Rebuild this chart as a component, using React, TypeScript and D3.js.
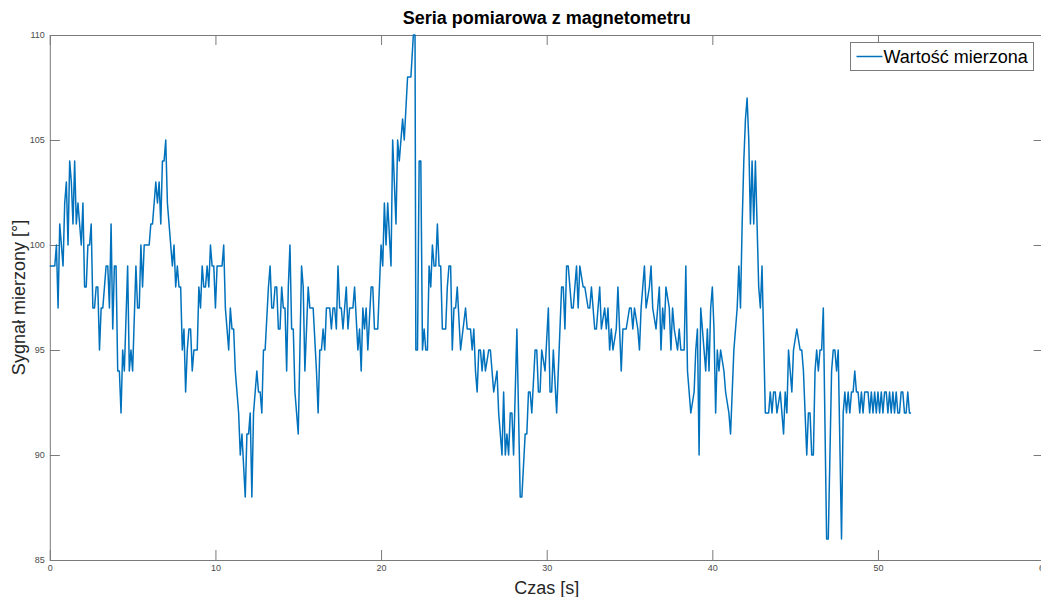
import React, { useRef, useEffect } from "react";
import { select, scaleLinear, axisBottom, axisLeft, axisTop, axisRight, line } from "d3";

// [czas s, wartość]
const part1 = [
  [0.0, 99], [0.3, 99], [0.4, 100], [0.5, 97], [0.6, 101], [0.7, 100], [0.8, 99], [0.9, 102],
  [1.0, 103], [1.1, 100], [1.2, 104], [1.3, 103], [1.4, 101], [1.5, 104], [1.6, 101], [1.7, 102],
  [1.8, 101], [1.9, 100], [2.0, 102], [2.1, 98], [2.2, 98], [2.3, 100], [2.4, 100], [2.5, 101],
  [2.6, 97], [2.7, 97], [2.8, 98], [2.9, 98], [3.0, 95], [3.1, 97], [3.2, 97], [3.4, 99],
  [3.5, 99], [3.6, 97], [3.7, 101], [3.8, 96], [3.9, 99], [4.0, 99], [4.1, 94], [4.2, 94],
  [4.3, 92], [4.4, 95], [4.5, 94], [4.7, 99], [4.8, 94], [4.9, 95], [5.0, 94], [5.2, 99],
  [5.3, 97], [5.4, 97],
];

const part2 = [
  [5.5, 100], [5.6, 98], [5.7, 100], [6.0, 100], [6.1, 101], [6.2, 101], [6.4, 103], [6.5, 102],
  [6.6, 103], [6.7, 101], [6.8, 104], [6.9, 104], [7.0, 105], [7.1, 102], [7.4, 99], [7.5, 100],
  [7.6, 98], [7.7, 99], [7.8, 98], [7.9, 98], [8.0, 95], [8.1, 96], [8.2, 93], [8.3, 95],
  [8.4, 96], [8.5, 96], [8.6, 94], [8.7, 95], [8.9, 95], [9.0, 98], [9.1, 97], [9.2, 99],
  [9.3, 98], [9.4, 98], [9.5, 99], [9.6, 98], [9.7, 100], [9.8, 99], [9.9, 99], [10.0, 97],
  [10.1, 99], [10.4, 99], [10.5, 100], [10.6, 97], [10.8, 95], [10.9, 97],
];

const part3 = [
  [11.0, 96], [11.1, 96], [11.2, 94], [11.4, 92], [11.5, 90], [11.6, 91], [11.8, 88], [11.9, 91],
  [12.0, 91], [12.1, 92], [12.2, 88], [12.3, 92], [12.4, 93], [12.5, 94], [12.6, 93], [12.7, 93],
  [12.8, 92], [12.9, 95], [13.0, 95], [13.2, 98], [13.3, 99], [13.4, 97], [13.5, 97], [13.6, 98],
  [13.7, 98], [13.8, 96], [13.9, 96], [14.0, 98], [14.1, 97], [14.2, 97], [14.3, 94], [14.4, 98],
  [14.5, 100], [14.6, 96], [14.7, 96], [14.8, 93], [15.0, 91], [15.2, 99], [15.3, 98], [15.4, 94],
  [15.6, 98], [15.7, 97], [15.9, 97], [16.1, 94], [16.2, 92], [16.3, 95], [16.4, 95], [16.5, 96],
  [16.6, 95], [16.7, 97], [16.9, 97],
];

const part4 = [
  [17.0, 96], [17.1, 97], [17.2, 97], [17.3, 96], [17.4, 99], [17.5, 97], [17.6, 97], [17.7, 96],
  [17.9, 98], [18.0, 96], [18.1, 97], [18.3, 97], [18.4, 98], [18.6, 95], [18.7, 96], [18.8, 94],
  [18.9, 97], [19.0, 96], [19.1, 97], [19.2, 95], [19.4, 98], [19.5, 98], [19.6, 96], [19.8, 96],
  [20.0, 100], [20.1, 99], [20.2, 102], [20.3, 100], [20.4, 102], [20.6, 99], [20.7, 105], [20.9, 101],
  [21.0, 105], [21.1, 104], [21.3, 106], [21.4, 105], [21.6, 108], [21.8, 108], [21.95, 110], [22.05, 110],
  [22.1, 95], [22.2, 95], [22.3, 104], [22.4, 104], [22.5, 95],
];

const part5 = [
  [22.6, 96], [22.7, 95], [22.8, 95], [22.9, 99], [23.0, 98], [23.1, 100], [23.2, 99], [23.3, 99],
  [23.4, 101], [23.5, 99], [23.6, 99], [23.7, 96], [23.9, 96], [24.0, 98], [24.1, 99], [24.2, 99],
  [24.3, 95], [24.4, 97], [24.5, 97], [24.6, 98], [24.8, 95], [25.1, 97], [25.2, 96], [25.4, 96],
  [25.5, 95], [25.6, 96], [25.7, 94], [25.8, 93], [25.9, 95], [26.0, 95], [26.1, 94], [26.2, 95],
  [26.3, 94], [26.5, 95], [26.6, 95], [26.8, 93], [27.0, 94], [27.1, 92], [27.3, 90], [27.4, 93],
  [27.5, 90], [27.6, 91], [27.7, 90], [27.8, 92], [27.9, 92], [28.0, 90],
];

const part6 = [
  [28.2, 96], [28.4, 88], [28.5, 88], [28.7, 91], [28.8, 91], [28.9, 93], [29.0, 93], [29.1, 92],
  [29.3, 95], [29.4, 95], [29.5, 93], [29.6, 93], [29.7, 95], [29.9, 94], [30.1, 97], [30.2, 93],
  [30.3, 93], [30.4, 95], [30.6, 92], [30.9, 98], [31.0, 98], [31.1, 96], [31.2, 99], [31.3, 99],
  [31.5, 97], [31.6, 97], [31.8, 99], [31.9, 97], [32.0, 99], [32.2, 98], [32.3, 98], [32.5, 97],
  [32.6, 97], [32.7, 98], [32.9, 96], [33.0, 96], [33.2, 98], [33.3, 96], [33.5, 97], [33.6, 96],
  [33.7, 97], [33.8, 95], [33.9, 96],
];

const part7 = [
  [34.0, 95], [34.2, 96], [34.3, 98], [34.4, 96], [34.5, 94], [34.6, 96], [34.8, 96], [35.0, 97],
  [35.1, 97], [35.2, 96], [35.3, 97], [35.5, 96], [35.6, 95], [35.7, 97], [35.8, 98], [35.9, 99],
  [36.0, 97], [36.2, 98], [36.3, 99], [36.4, 97], [36.6, 96], [36.7, 97], [36.8, 98], [36.9, 95],
  [37.0, 97], [37.1, 96], [37.2, 98], [37.4, 97], [37.5, 95], [37.6, 97], [37.7, 96], [37.9, 95],
  [38.0, 96], [38.1, 95], [38.3, 95], [38.4, 99], [38.5, 94], [38.6, 93], [38.7, 92], [38.9, 93],
  [39.0, 95], [39.1, 96], [39.2, 90], [39.3, 97], [39.4, 96], [39.6, 94],
];

const part8 = [
  [39.7, 96], [39.8, 94], [39.9, 97], [40.0, 98], [40.1, 96], [40.2, 92], [40.3, 95], [40.4, 94],
  [40.5, 95], [40.7, 94], [40.8, 93], [41.0, 92], [41.1, 91], [41.3, 95], [41.4, 96], [41.5, 97],
  [41.6, 99], [41.7, 97], [41.8, 101], [41.9, 104], [42.0, 106], [42.1, 107], [42.2, 105], [42.3, 101],
  [42.4, 104], [42.5, 101], [42.6, 104], [42.7, 101], [42.8, 98], [42.9, 97], [43.0, 99], [43.2, 92],
  [43.4, 92], [43.5, 93], [43.6, 92], [43.7, 93], [43.8, 93], [43.9, 92], [44.1, 93], [44.3, 91],
  [44.4, 93], [44.5, 92], [44.6, 95], [44.8, 93], [44.9, 95], [45.1, 96], [45.3, 95], [45.4, 95],
];

const part9 = [
  [45.5, 94], [45.6, 92], [45.7, 90], [45.8, 92], [45.9, 92], [46.0, 90], [46.1, 90], [46.2, 94],
  [46.3, 95], [46.4, 94], [46.5, 95], [46.6, 95], [46.7, 97], [46.9, 86], [47.0, 86], [47.2, 94],
  [47.3, 95], [47.4, 95], [47.5, 94], [47.6, 95], [47.8, 86], [47.9, 92], [48.0, 93], [48.1, 92],
  [48.2, 93], [48.3, 92], [48.4, 93], [48.5, 93], [48.6, 94], [48.7, 93], [48.8, 93], [48.9, 92],
  [49.0, 93], [49.1, 92], [49.2, 93], [49.3, 93], [49.4, 93], [49.5, 92], [49.6, 93], [49.7, 92],
  [49.8, 93], [49.9, 92], [50.0, 93], [50.1, 92], [50.2, 93], [50.3, 92], [50.4, 93], [50.5, 93],
  [50.6, 92], [50.7, 93], [50.8, 92], [50.9, 93], [51.0, 92], [51.1, 93], [51.2, 92], [51.3, 92],
  [51.4, 93], [51.5, 93], [51.6, 92], [51.7, 92], [51.8, 93], [51.9, 92], [52.0, 92],
];

const xTicks = [0, 10, 20, 30, 40, 50, 60];
const yTicks = [85, 90, 95, 100, 105, 110];

const title = "Seria pomiarowa z magnetometru";
const xLabel = "Czas [s]";
const yLabel = "Sygnał mierzony [°]";
const legendLabel = "Wartość mierzona";

function App() {
  const chartRef = useRef<SVGSVGElement>(null);

  useEffect(() => {
    const data = [...part1, ...part2, ...part3, ...part4, ...part5, ...part6, ...part7, ...part8, ...part9];
    const svg = select(chartRef.current);
    svg.selectAll("*").remove();

    const left = 49.8;
    const right = 1043.6;
    const top = 35;
    const bottom = 560;
    const axisColor = "#7a7a7a";
    const font = "'Liberation Sans', Arial, sans-serif";

    const xScale = scaleLinear().domain([0, 60]).range([left, right]);
    const yScale = scaleLinear().domain([85, 110]).range([bottom, top]);

    svg.append("rect").attr("width", 1041).attr("height", 597).attr("fill", "white");

    // osie (ticki do środka jak w MATLAB)
    const styleAxis = (g) => {
      g.select(".domain").attr("stroke", axisColor).attr("stroke-width", 1);
      g.selectAll(".tick line").attr("stroke", axisColor);
      g.selectAll(".tick text")
        .attr("fill", "#4a4a4a")
        .style("font-family", font)
        .style("font-size", "9px");
    };

    svg.append("g")
      .attr("transform", `translate(0,${bottom})`)
      .call(axisBottom(xScale).tickValues(xTicks).tickSizeInner(-10).tickSizeOuter(0).tickPadding(5))
      .call(styleAxis);

    svg.append("g")
      .attr("transform", `translate(0,${top})`)
      .call(axisTop(xScale).tickValues(xTicks).tickSizeInner(-10).tickSizeOuter(0).tickFormat(() => ""))
      .call(styleAxis);

    svg.append("g")
      .attr("transform", `translate(${left},0)`)
      .call(axisLeft(yScale).tickValues(yTicks).tickSizeInner(-10).tickSizeOuter(0).tickPadding(5))
      .call(styleAxis);

    svg.append("g")
      .attr("transform", `translate(${right},0)`)
      .call(axisRight(yScale).tickValues(yTicks).tickSizeInner(-10).tickSizeOuter(0).tickFormat(() => ""))
      .call(styleAxis);

    // seria
    const path = line()
      .x((d) => xScale(d[0]))
      .y((d) => yScale(d[1]));

    svg.append("path")
      .datum(data)
      .attr("d", path)
      .attr("fill", "none")
      .attr("stroke", "#0072BD")
      .attr("stroke-width", 1.5)
      .attr("stroke-linejoin", "round");

    // tytuł i etykiety
    svg.append("text")
      .attr("x", (left + right) / 2)
      .attr("y", 24)
      .attr("text-anchor", "middle")
      .style("font-family", font)
      .style("font-weight", "bold")
      .style("font-size", "18px")
      .attr("fill", "#000")
      .text(title);

    svg.append("text")
      .attr("x", (left + right) / 2)
      .attr("y", 594)
      .attr("text-anchor", "middle")
      .style("font-family", font)
      .style("font-size", "18px")
      .attr("fill", "#262626")
      .text(xLabel);

    svg.append("text")
      .attr("transform", `translate(25,${(top + bottom) / 2}) rotate(-90)`)
      .attr("text-anchor", "middle")
      .style("font-family", font)
      .style("font-size", "18px")
      .attr("fill", "#262626")
      .text(yLabel);

    // legenda
    const lg = svg.append("g").attr("transform", "translate(850.5,42.5)");
    lg.append("rect")
      .attr("width", 183)
      .attr("height", 28)
      .attr("fill", "white")
      .attr("stroke", "#7a7a7a");
    lg.append("line")
      .attr("x1", 6).attr("x2", 32)
      .attr("y1", 14).attr("y2", 14)
      .attr("stroke", "#0072BD")
      .attr("stroke-width", 1.5);
    lg.append("text")
      .attr("x", 33)
      .attr("y", 20.5)
      .style("font-family", font)
      .style("font-size", "18px")
      .attr("fill", "#000")
      .text(legendLabel);
  }, []);

  return (
    <svg
      ref={chartRef}
      width={1041}
      height={597}
      style={{ position: "absolute", left: 0, top: 0 }}
    />
  );
}

export default App;
